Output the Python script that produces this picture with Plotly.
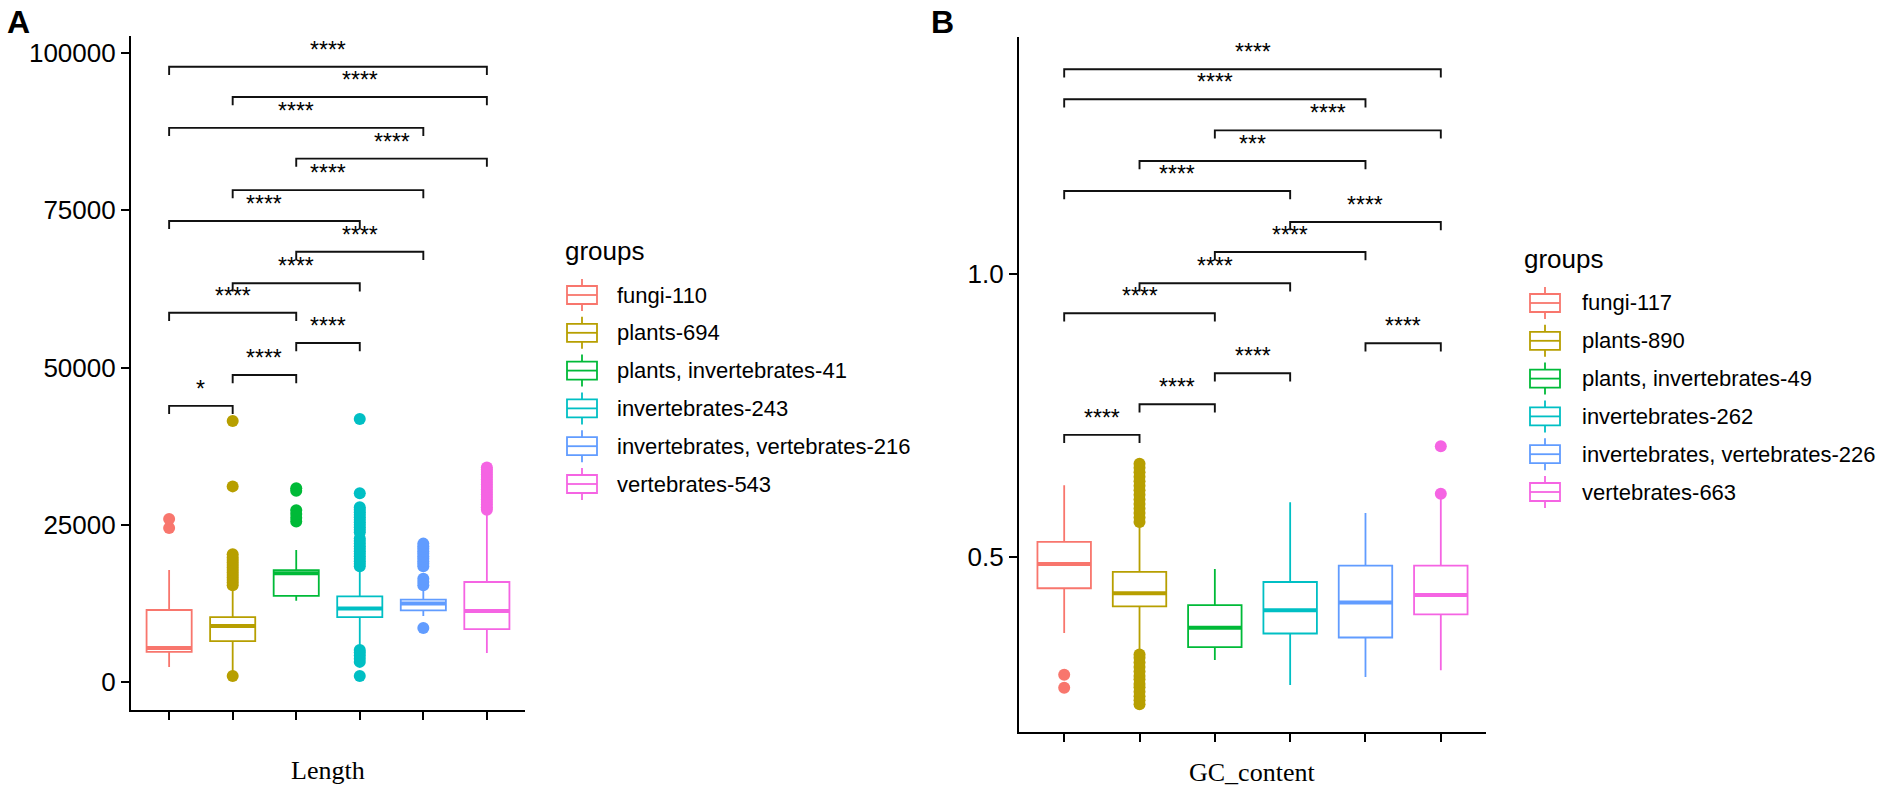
import plotly.graph_objects as go

W, H = 1904, 800

colors = ["#F8766D", "#B79F00", "#00BA38", "#00BFC4", "#619CFF", "#F564E3"]
positions = [1, 2, 3, 4, 5, 6]

# ---------------- Panel A : Length ----------------
a_labels = ["fungi-110", "plants-694", "plants, invertebrates-41", "invertebrates-243",
            "invertebrates, vertebrates-216", "vertebrates-543"]
a_q1 = [4800, 6500, 13700, 10300, 11400, 8400]
a_median = [5400, 8900, 17300, 11700, 12500, 11300]
a_q3 = [11450, 10300, 17800, 13600, 13100, 15900]
a_lower = [2400, 1400, 12900, 5900, 10500, 4600]
a_upper = [17800, 15100, 21000, 18100, 14800, 27000]
a_outliers = [
    [24500, 25900],
    [950, 15400, 15800, 16200, 16600, 17000, 17400, 17800, 18200, 18600, 19000, 19400,
     19800, 20300, 31100, 41500],
    [25500, 26100, 26700, 27300, 30400, 30800],
    [950, 3200, 3700, 4200, 4700, 5100, 18400, 18800, 19200, 19600, 20000, 20400, 20800,
     21200, 21600, 22000, 22400, 22800, 23800, 24200, 24600, 25000, 25400, 25800, 26200,
     26600, 27000, 27400, 27800, 30000, 41800],
    [8600, 15400, 15900, 16400, 18400, 18800, 19200, 19600, 20000, 20400, 20800, 21200,
     21600, 22000],
    [27400, 27800, 28200, 28600, 29000, 29400, 29800, 30200, 30600, 31000, 31400, 31800,
     32200, 32600, 33000, 33400, 33800, 34100],
]
a_pairs = [(1, 6), (2, 6), (1, 5), (3, 6), (2, 5), (1, 4), (3, 5), (2, 4), (1, 3), (3, 4), (2, 3), (1, 2)]
a_bracket_y = [97800, 93000, 88100, 83200, 78200, 73300, 68400, 63400, 58700, 53900, 48800, 43900]
a_sig = ["****"] * 11 + ["*"]
a_yticks = [0, 25000, 50000, 75000, 100000]
a_yticktext = ["0", "25000", "50000", "75000", "100000"]
a_yrange = [-4450, 102700]

# ---------------- Panel B : GC_content ----------------
b_labels = ["fungi-117", "plants-890", "plants, invertebrates-49", "invertebrates-262",
            "invertebrates, vertebrates-226", "vertebrates-663"]
b_q1 = [0.445, 0.413, 0.341, 0.365, 0.358, 0.399]
b_median = [0.488, 0.436, 0.375, 0.406, 0.420, 0.433]
b_q3 = [0.527, 0.474, 0.415, 0.456, 0.485, 0.485]
b_lower = [0.366, 0.332, 0.318, 0.274, 0.288, 0.300]
b_upper = [0.627, 0.556, 0.479, 0.597, 0.578, 0.610]
b_outliers = [
    [0.269, 0.292],
    [0.240, 0.247, 0.254, 0.262, 0.270, 0.276, 0.284, 0.290, 0.298, 0.306, 0.314, 0.322,
     0.328, 0.562, 0.570, 0.578, 0.586, 0.594, 0.602, 0.610, 0.618, 0.626, 0.634, 0.642,
     0.650, 0.658, 0.665],
    [],
    [],
    [],
    [0.612, 0.696],
]
b_pairs = [(1, 6), (1, 5), (3, 6), (2, 5), (1, 4), (4, 6), (3, 5), (2, 4), (1, 3), (5, 6), (3, 4), (2, 3), (1, 2)]
b_bracket_y = [1.362, 1.309, 1.254, 1.200, 1.147, 1.092, 1.039, 0.984, 0.931, 0.878, 0.825, 0.770, 0.716]
b_sig = ["****", "****", "****", "***", "****", "****", "****", "****", "****", "****", "****", "****", "****"]
b_yticks = [0.5, 1.0]
b_yticktext = ["0.5", "1.0"]
b_yrange = [0.191, 1.419]

fig = go.Figure()

BOXW = 0.71
SANS = "Liberation Sans, Arial"


def add_panel(xa, ya, q1, med, q3, lo, hi, outs, pairs, by, sig, ticklen_data):
    for i, p in enumerate(positions):
        c = colors[i]
        fig.add_trace(go.Box(
            x=[p], q1=[q1[i]], median=[med[i]], q3=[q3[i]],
            lowerfence=[lo[i]], upperfence=[hi[i]], width=BOXW, whiskerwidth=0,
            line=dict(color=c, width=1.8), fillcolor="white", boxpoints=False,
            showlegend=False, hoverinfo="skip", xaxis=xa, yaxis=ya))
        fig.add_trace(go.Scatter(
            x=[p - BOXW / 2, p + BOXW / 2], y=[med[i], med[i]], mode="lines",
            line=dict(color=c, width=4), showlegend=False, hoverinfo="skip",
            xaxis=xa, yaxis=ya))
        if outs[i]:
            fig.add_trace(go.Scatter(
                x=[p] * len(outs[i]), y=outs[i], mode="markers",
                marker=dict(color=c, size=12, line=dict(width=0)),
                showlegend=False, hoverinfo="skip", xaxis=xa, yaxis=ya))
    for (a, b), yv, s in zip(pairs, by, sig):
        fig.add_shape(type="path",
                      path=f"M {a},{yv - ticklen_data} L {a},{yv} L {b},{yv} L {b},{yv - ticklen_data}",
                      xref=xa, yref=ya, line=dict(color="#111111", width=1.9))
        fig.add_annotation(x=(a + b) / 2, y=yv, xref=xa, yref=ya, text=s, showarrow=False,
                           xanchor="center", yanchor="middle", yshift=17,
                           font=dict(family=SANS, size=23, color="black"))


add_panel("x", "y", a_q1, a_median, a_q3, a_lower, a_upper, a_outliers,
          a_pairs, a_bracket_y, a_sig, 1300)
add_panel("x2", "y2", b_q1, b_median, b_q3, b_lower, b_upper, b_outliers,
          b_pairs, b_bracket_y, b_sig, 0.0145)


def px(x):
    return x / W


def py(y):
    return 1 - y / H


axis_common = dict(showline=True, linecolor="black", linewidth=2.2, ticks="outside",
                   ticklen=8, tickwidth=1.8, tickcolor="black", showgrid=False,
                   zeroline=False, mirror=False,
                   tickfont=dict(family=SANS, size=26, color="black"))

fig.update_layout(
    width=W, height=H, autosize=False,
    margin=dict(l=0, r=0, t=0, b=0),
    paper_bgcolor="white", plot_bgcolor="white",
    boxmode="overlay",
    xaxis=dict(domain=[px(131), px(525)], range=[0.4, 6.6], tickvals=positions,
               ticktext=[""] * 6, anchor="y", **axis_common),
    yaxis=dict(domain=[py(710), py(36)], range=a_yrange, tickvals=a_yticks,
               ticktext=a_yticktext, anchor="x", **axis_common),
    xaxis2=dict(domain=[px(1019), px(1486)], range=[0.4, 6.6], tickvals=positions,
                ticktext=[""] * 6, anchor="y2", **axis_common),
    yaxis2=dict(domain=[py(732), py(37)], range=b_yrange, tickvals=b_yticks,
                ticktext=b_yticktext, anchor="x2", **axis_common),
)


def note(x, y, text, size, family=SANS, xanchor="center"):
    fig.add_annotation(x=px(x), y=py(y), xref="paper", yref="paper", text=text,
                       showarrow=False, xanchor=xanchor, yanchor="middle",
                       font=dict(family=family, size=size, color="black"))


# axis titles and panel tags
note(328, 770, "Length", 26, "Liberation Serif")
note(1252, 772, "GC_content", 26, "Liberation Serif")
note(18, 22, "<b>A</b>", 32)
note(942, 22, "<b>B</b>", 32)


def draw_legend(x_icon, x_text, x_title, y_title, y_first, step, labels):
    note(x_title, y_title, "groups", 26, xanchor="left")
    for i, lab in enumerate(labels):
        c = colors[i]
        yc = y_first + i * step
        x0, x1 = x_icon, x_icon + 30
        xm = (x0 + x1) / 2
        fig.add_shape(type="rect", xref="paper", yref="paper", x0=px(x0), x1=px(x1),
                      y0=py(yc - 9), y1=py(yc + 9), line=dict(color=c, width=1.8),
                      fillcolor="white")
        fig.add_shape(type="line", xref="paper", yref="paper", x0=px(x0), x1=px(x1),
                      y0=py(yc), y1=py(yc), line=dict(color=c, width=1.8))
        fig.add_shape(type="line", xref="paper", yref="paper", x0=px(xm), x1=px(xm),
                      y0=py(yc - 9), y1=py(yc - 16), line=dict(color=c, width=1.8))
        fig.add_shape(type="line", xref="paper", yref="paper", x0=px(xm), x1=px(xm),
                      y0=py(yc + 9), y1=py(yc + 16), line=dict(color=c, width=1.8))
        note(x_text, yc, lab, 22, xanchor="left")


draw_legend(567, 615, 563, 251, 295, 37.8, a_labels)
draw_legend(1530, 1580, 1522, 259, 303, 37.8, b_labels)

fig.write_html("out.html", config={"displayModeBar": False},
               post_script="document.body.style.margin='0px';document.body.style.padding='0px';")
